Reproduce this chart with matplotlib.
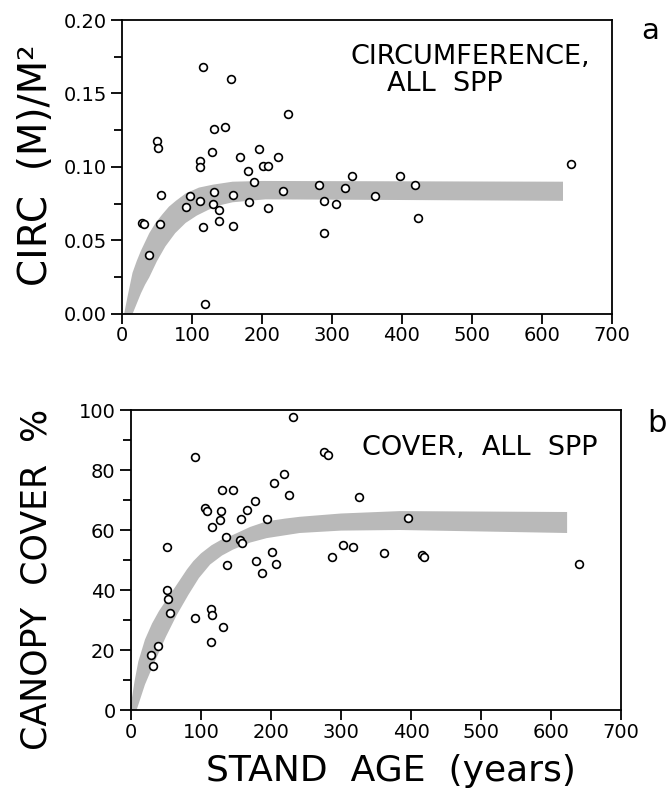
import matplotlib
matplotlib.use("Agg")
import matplotlib.pyplot as plt
import numpy as np
from matplotlib.ticker import MultipleLocator

# ---------------- data ----------------
# panel a: circumference per m^2 vs stand age
circ_age = [116, 156, 237, 132, 147, 50, 52, 111, 111, 129, 168, 196, 201, 208, 223,
            180, 188, 55, 97, 112, 131, 159, 181, 230, 92, 130, 139, 139, 209, 29, 31,
            54, 115, 159, 39, 119, 281, 288, 289, 306, 319, 329, 362, 397, 419, 423, 642]
circ_val = [0.168, 0.160, 0.136, 0.126, 0.127, 0.118, 0.113, 0.104, 0.100, 0.110, 0.107,
            0.112, 0.101, 0.101, 0.107, 0.097, 0.090, 0.081, 0.080, 0.077, 0.083, 0.081,
            0.076, 0.084, 0.073, 0.075, 0.071, 0.063, 0.072, 0.062, 0.061, 0.061, 0.059,
            0.060, 0.040, 0.007, 0.088, 0.077, 0.055, 0.075, 0.086, 0.094, 0.080, 0.094,
            0.088, 0.065, 0.102]

# panel a band (upper and lower edges)
band_a_up_age = [0, 3, 8, 15, 21, 27, 33, 39, 48, 58, 67, 77, 91, 110, 130, 158, 200, 630]
band_a_up_val = [-0.004, 0.000, 0.012, 0.028, 0.036, 0.043, 0.049, 0.055, 0.062, 0.068,
                 0.073, 0.077, 0.082, 0.086, 0.088, 0.090, 0.0905, 0.090]
band_a_lo_age = [15, 21, 27, 33, 39, 50, 62, 76, 91, 107, 124, 140, 158, 205, 630]
band_a_lo_val = [0.000, 0.007, 0.014, 0.020, 0.025, 0.036, 0.046, 0.055, 0.062, 0.067,
                 0.071, 0.074, 0.076, 0.078, 0.077]

# panel b: canopy cover vs stand age
cover_age = [232, 92, 275, 282, 219, 204, 130, 145, 226, 325, 177, 106, 108, 128, 165,
             127, 157, 194, 115, 136, 156, 158, 51, 201, 179, 137, 207, 187, 303, 317,
             287, 361, 51, 53, 55, 114, 116, 92, 132, 114, 39, 28, 32, 396, 415, 419, 640]
cover_val = [97.7, 84.2, 86.0, 85.0, 78.7, 75.7, 73.3, 73.4, 71.8, 71.1, 69.6, 67.3, 66.3,
             66.3, 66.6, 63.3, 63.6, 63.7, 61.1, 57.6, 56.8, 55.6, 54.2, 52.8, 49.7, 48.4,
             48.8, 45.7, 55.1, 54.3, 51.1, 52.3, 40.1, 37.1, 32.3, 33.7, 31.6, 30.6, 27.7,
             22.8, 21.4, 18.4, 14.6, 64.0, 51.8, 51.0, 48.8]

# panel b band (upper and lower edges)
band_b_up_age = [0, 5, 10.5, 20, 30, 40, 50, 58, 70, 80, 89, 100, 115, 130, 146, 170,
                 194, 220, 241, 300, 384, 623]
band_b_up_val = [2.0, 9.5, 16.2, 23.5, 28.8, 33.0, 36.5, 39.2, 43.4, 46.9, 49.6, 52.2,
                 54.9, 56.9, 58.4, 61.0, 62.9, 63.8, 64.4, 65.5, 66.3, 66.0]
band_b_lo_age = [0, 8, 20, 34, 50, 65, 82, 97, 113, 130, 146, 170, 194, 241, 300, 384, 623]
band_b_lo_val = [0.0, 0.0, 8.5, 16.2, 24.5, 31.5, 38.4, 44.0, 48.5, 51.5, 53.5, 55.8,
                 57.3, 59.0, 59.8, 60.0, 59.0]

x_ticks = [0, 100, 200, 300, 400, 500, 600, 700]
a_yticks = [0.00, 0.05, 0.10, 0.15, 0.20]
b_yticks = [0, 20, 40, 60, 80, 100]

# ---------------- figure ----------------
W, H = 666, 788
fig = plt.figure(figsize=(W / 100, H / 100), dpi=100)
plt.rcParams['font.family'] = ['DejaVu Sans']


def ax_rect(x0, y0, x1, y1):
    return [x0 / W, 1 - y1 / H, (x1 - x0) / W, (y1 - y0) / H]


ax1 = fig.add_axes(ax_rect(122, 20, 612, 314))
ax2 = fig.add_axes(ax_rect(131, 410, 621, 710))

band_color = '#b9b9b9'

ax1.fill(np.r_[band_a_up_age, band_a_lo_age[::-1]],
         np.r_[band_a_up_val, band_a_lo_val[::-1]],
         color=band_color, lw=0, zorder=1)
ax1.plot(circ_age, circ_val, 'o', ms=5.6, mfc='white', mec='black', mew=1.2,
         ls='none', zorder=3, clip_on=False)

ax2.fill(np.r_[band_b_up_age, band_b_lo_age[::-1]],
         np.r_[band_b_up_val, band_b_lo_val[::-1]],
         color=band_color, lw=0, zorder=1)
ax2.plot(cover_age, cover_val, 'o', ms=5.6, mfc='white', mec='black', mew=1.2,
         ls='none', zorder=3, clip_on=False)

for ax in (ax1, ax2):
    ax.set_xlim(0, 700)
    ax.set_xticks(x_ticks)
    ax.set_xticklabels([str(t) for t in x_ticks])
    for s in ax.spines.values():
        s.set_linewidth(1.3)
    ax.tick_params(axis='x', which='major', direction='out', length=7, width=1.3,
                   pad=2, labelsize=14, top=False)
    ax.tick_params(axis='y', which='major', direction='out', length=8, width=1.3,
                   pad=3, labelsize=14, right=False)
    ax.tick_params(axis='y', which='minor', direction='out', length=6, width=1.3,
                   right=False)

ax1.set_ylim(0, 0.20)
ax1.set_yticks(a_yticks)
ax1.set_yticklabels(['%.2f' % t for t in a_yticks])
ax1.yaxis.set_minor_locator(MultipleLocator(0.025))

ax2.set_ylim(0, 100)
ax2.set_yticks(b_yticks)
ax2.set_yticklabels([str(t) for t in b_yticks])
ax2.yaxis.set_minor_locator(MultipleLocator(10))


def ftext(x, y, s, **kw):
    fig.text(x / W, 1 - y / H, s, **kw)


ftext(470, 57, 'CIRCUMFERENCE,', ha='center', va='center', fontsize=19.5)
ftext(445, 84, 'ALL  SPP', ha='center', va='center', fontsize=19.5)
ftext(480, 448, 'COVER,  ALL  SPP', ha='center', va='center', fontsize=19.5)
ftext(650, 31, 'a', ha='center', va='center', fontsize=21)
ftext(657, 423, 'b', ha='center', va='center', fontsize=22)

ftext(36, 165, 'CIRC  (M)/M²', rotation=90, ha='center', va='center', fontsize=28)
ftext(37, 579, 'CANOPY  COVER  %', rotation=90, ha='center', va='center', fontsize=25)
ftext(391, 781, 'STAND  AGE  (years)', ha='center', va='baseline', fontsize=26)

fig.savefig('out.png', dpi=100)
